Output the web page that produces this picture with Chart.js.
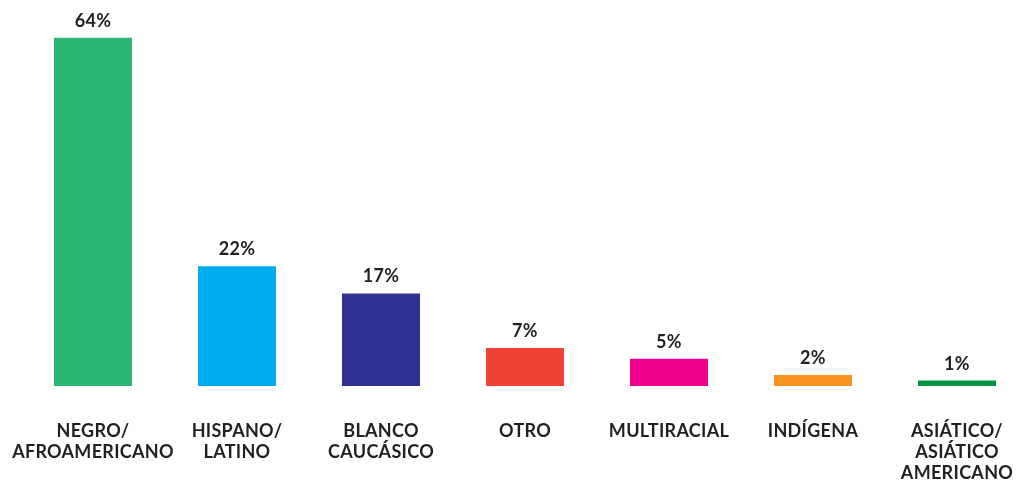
<!DOCTYPE html>
<html>
<head>
<meta charset="utf-8">
<script src="https://cdn.jsdelivr.net/npm/chart.js@4"></script>
<style>
  html, body { margin: 0; padding: 0; background: #fff; overflow: hidden; }
  #wrap { width: 1030px; height: 486px; }
</style>
</head>
<body>
<div id="wrap"><canvas id="chart"></canvas></div>
<script>
// chart values
const categories = [
  ['NEGRO/', 'AFROAMERICANO'],
  ['HISPANO/', 'LATINO'],
  ['BLANCO', 'CAUCÁSICO'],
  'OTRO',
  'MULTIRACIAL',
  'INDÍGENA',
  ['ASIÁTICO/', 'ASIÁTICO', 'AMERICANO']
];
const percents = [64, 22, 17, 7, 5, 2, 1];
const barColors = ['#2cb673', '#00aeef', '#2e3192', '#ef4136', '#ec008c', '#f7941d', '#009444'];

const textColor = '#231f20';
const fontFamily = 'Lato, "Noto Sans", sans-serif';

// a touch of tracking, the original type is a bit wider
const tracking = {
  id: 'tracking',
  beforeDraw(chart) {
    chart.ctx.letterSpacing = '0.3px';
  }
};

// draws the % numbers over each bar
const valueLabels = {
  id: 'valueLabels',
  afterDatasetsDraw(chart) {
    const ctx = chart.ctx;
    const meta = chart.getDatasetMeta(0);
    ctx.save();
    ctx.fillStyle = textColor;
    ctx.font = '700 18px ' + fontFamily;
    ctx.textAlign = 'center';
    ctx.textBaseline = 'alphabetic';
    meta.data.forEach((bar, i) => {
      ctx.fillText(percents[i] + '%', bar.x, bar.y - 11);
    });
    ctx.restore();
  }
};

const ctx = document.getElementById('chart').getContext('2d');
new Chart(ctx, {
  type: 'bar',
  data: {
    labels: categories,
    datasets: [{
      data: percents,
      backgroundColor: barColors,
      borderWidth: 0,
      barPercentage: 1,
      categoryPercentage: 78 / 144
    }]
  },
  options: {
    responsive: true,
    maintainAspectRatio: false,
    animation: false,
    layout: { padding: { top: 5, left: 21, right: 1, bottom: 0 } },
    plugins: {
      legend: { display: false },
      tooltip: { enabled: false }
    },
    scales: {
      x: {
        grid: { display: false },
        border: { display: false },
        afterFit(scale) {
          // keep the axis box fixed so the long labels don't shrink the plot
          scale.height = 100;
          scale.paddingLeft = 0;
          scale.paddingRight = 0;
        },
        ticks: {
          color: textColor,
          padding: 27,
          maxRotation: 0,
          autoSkip: false,
          font: { family: fontFamily, weight: '700', size: 18, lineHeight: 21 / 18 }
        }
      },
      y: {
        display: false,
        min: 0,
        max: 70
      }
    }
  },
  plugins: [tracking, valueLabels]
});
</script>
</body>
</html>
